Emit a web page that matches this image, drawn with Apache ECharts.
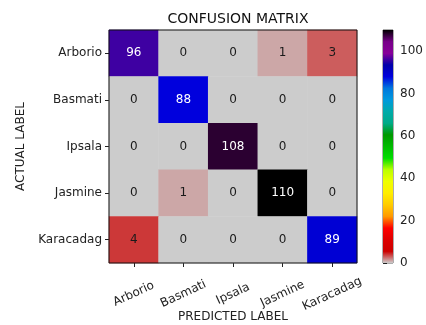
<!DOCTYPE html>
<html><head><meta charset="utf-8">
<script src="https://cdn.jsdelivr.net/npm/echarts@6/dist/echarts.min.js"></script>
<style>html,body{margin:0;padding:0;background:#fff}#c{width:426px;height:325px}</style>
</head><body><div id="c"></div>
<script>
const categories = ['Arborio','Basmati','Ipsala','Jasmine','Karacadag'];
const matrixRows = [
  [96, 0, 0, 1, 3],
  [0, 88, 0, 0, 0],
  [0, 0, 108, 0, 0],
  [0, 1, 0, 110, 0],
  [4, 0, 0, 0, 89]
];
const colorbarTicks = [0, 20, 40, 60, 80, 100];
const vmin = 0, vmax = 110;
// nipy_spectral colormap stops (position 0 -> 1), used reversed
const nipy = ['#000000','#770088','#880099','#0000aa','#0000dd','#0077dd','#0099dd','#00aaaa','#00aa88','#009900','#00bb00','#00dd00','#bbff00','#eeff00','#ffee00','#ffcc00','#ff9900','#ff0000','#dd0000','#cc0000','#cccccc'];
const cmapLowToHigh = nipy.slice().reverse();

const font = 'DejaVu Sans';
const data = [];
matrixRows.forEach((row, r) => row.forEach((v, c) => {
  data.push({value: [c, r, v], label: {color: v > vmax / 2 ? '#ffffff' : '#1a1a1a'}});
}));

const chart = echarts.init(document.getElementById('c'), null, {renderer: 'canvas'});
chart.setOption({
  animation: false,
  backgroundColor: '#fff',
  title: [
    {text: 'CONFUSION MATRIX', left: 233, top: 7, textAlign: 'center',
      textStyle: {fontFamily: font, fontSize: 14, fontWeight: 'normal', color: '#111'}},
    {text: 'PREDICTED LABEL', left: 233, top: 311, textAlign: 'center', padding: 0,
      textStyle: {fontFamily: font, fontSize: 12, fontWeight: 'normal', color: '#222'}}
  ],
  grid: [
    {left: 109, top: 30, width: 248, height: 233, show: true, borderColor: '#111', borderWidth: 1, backgroundColor: 'transparent', z: 10, containLabel: false, outerBoundsMode: 'none'},
    {left: 383, top: 30, width: 10, height: 233, show: true, borderColor: '#333', borderWidth: 0.8, backgroundColor: 'transparent', containLabel: false, outerBoundsMode: 'none'}
  ],
  xAxis: [
    {type: 'category', data: categories, gridIndex: 0,
      axisLine: {show: false}, axisTick: {show: true, alignWithLabel: true, length: 4, lineStyle: {color: '#222'}},
      axisLabel: {fontFamily: font, fontSize: 12, color: '#222', rotate: 25, align: 'center', verticalAlign: 'middle', margin: 31},
      splitLine: {show: false}},
    {type: 'value', gridIndex: 1, min: 0, max: 1, show: false}
  ],
  yAxis: [
    {type: 'category', data: categories, gridIndex: 0, inverse: true, name: 'ACTUAL LABEL', nameLocation: 'middle', nameGap: 82,
      nameRotate: 90, nameTextStyle: {fontFamily: font, fontSize: 12, color: '#222'},
      axisLine: {show: false}, axisTick: {show: true, alignWithLabel: true, length: 4, lineStyle: {color: '#222'}},
      axisLabel: {fontFamily: font, fontSize: 12, color: '#222', margin: 7},
      splitLine: {show: false}},
    {type: 'value', gridIndex: 1, min: vmin, max: vmax, interval: 20, position: 'right',
      axisLine: {show: false}, axisTick: {show: true, length: 4, lineStyle: {color: '#222'}},
      axisLabel: {fontFamily: font, fontSize: 12, color: '#222', margin: 7, showMaxLabel: false,
        formatter: v => colorbarTicks.indexOf(v) >= 0 ? String(v) : ''},
      splitLine: {show: false}}
  ],
  visualMap: {type: 'continuous', min: vmin, max: vmax, show: false, seriesIndex: 0, dimension: 2,
    inRange: {color: cmapLowToHigh}},
  series: [
    {type: 'heatmap', xAxisIndex: 0, yAxisIndex: 0, data: data,
      label: {show: true, fontFamily: font, fontSize: 12, formatter: p => String(p.value[2])},
      itemStyle: {borderWidth: 0}, emphasis: {disabled: true}},
    {type: 'custom', xAxisIndex: 1, yAxisIndex: 1, data: [[0, vmin, vmax]], silent: true,
      renderItem: function (params, api) {
        const p0 = api.coord([0, api.value(1)]);
        const p1 = api.coord([1, api.value(2)]);
        const stops = nipy.map((c, i) => ({offset: i / (nipy.length - 1), color: c}));
        return {type: 'rect', shape: {x: p0[0], y: p1[1], width: p1[0] - p0[0], height: p0[1] - p1[1]},
          style: {fill: new echarts.graphic.LinearGradient(0, 0, 0, 1, stops)}};
      }}
  ]
});
</script></body></html>
